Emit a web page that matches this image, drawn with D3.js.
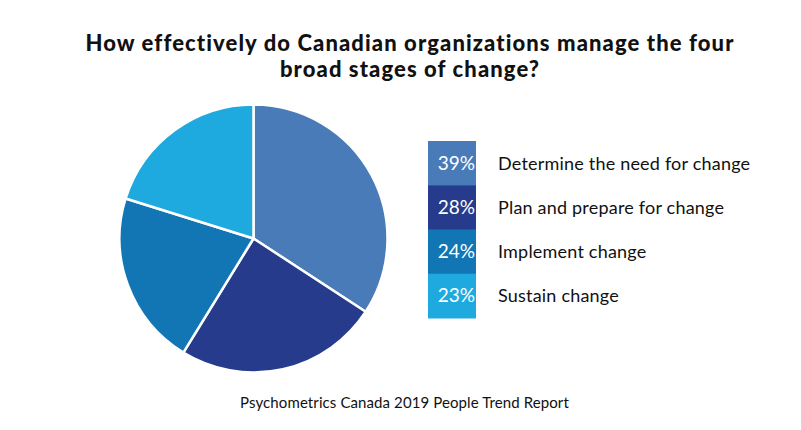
<!DOCTYPE html>
<html lang="en">
<head>
<meta charset="utf-8">
<title>Stages of change</title>
<script src="https://d3js.org/d3.v7.min.js"></script>
<style>
  body { margin: 0; background: #fff; }
  text { font-family: Lato, "Open Sans", sans-serif; }
</style>
</head>
<body>
<svg class="chart"></svg>
<script>
// data
var stages = ["Determine the need for change", "Plan and prepare for change", "Implement change", "Sustain change"];
var percents = [39, 28, 24, 23];
var colours = ["#497bb8", "#263b8b", "#1276b5", "#1eaadf"];
var titleLines = ["How effectively do Canadian organizations manage the four", "broad stages of change?"];
var source = "Psychometrics Canada 2019 People Trend Report";

var width = 801, height = 430;

var svg = d3.select(".chart")
    .attr("width", width)
    .attr("height", height);

// title
svg.append("text")
    .attr("x", 410)
    .attr("y", 51)
    .attr("text-anchor", "middle")
    .style("font-size", "22px")
    .style("font-weight", "900")
    .style("letter-spacing", "1.1px")
    .style("fill", "#111")
    .selectAll("tspan")
    .data(titleLines)
    .enter().append("tspan")
    .attr("x", 410)
    .attr("dy", function(d, i) { return i ? 26 : 0; })
    .text(function(d) { return d; });

// pie
var radius = 134;
var pieG = svg.append("g").attr("transform", "translate(253.5,238.5)");

var pie = d3.pie().sort(null).value(function(d) { return d; });
var arc = d3.arc().innerRadius(0).outerRadius(radius);

pieG.selectAll("path")
    .data(pie(percents))
    .enter().append("path")
    .attr("d", arc)
    .style("fill", function(d, i) { return colours[i]; })
    .style("stroke", "#fff")
    .style("stroke-width", 2.5)
    .style("stroke-linejoin", "round");

// legend
var y = d3.scaleBand()
    .domain(stages)
    .range([141, 318])
    .padding(0);

var legend = svg.append("g");

var rows = legend.selectAll(".row")
    .data(stages)
    .enter().append("g")
    .attr("class", "row")
    .attr("transform", function(d) { return "translate(0," + y(d) + ")"; });

rows.append("rect")
    .attr("x", 428)
    .attr("width", 48)
    .attr("height", y.bandwidth() + 0.5)
    .style("fill", function(d, i) { return colours[i]; });

rows.append("text")
    .attr("x", 475)
    .attr("y", y.bandwidth() / 2 + 6.5)
    .attr("text-anchor", "end")
    .style("font-size", "19px")
    .style("fill", "#fff")
    .text(function(d, i) { return percents[i] + "%"; });

rows.append("text")
    .attr("x", 498)
    .attr("y", y.bandwidth() / 2 + 6.5)
    .style("font-size", "18px")
    .style("letter-spacing", "0.2px")
    .style("fill", "#111")
    .text(function(d) { return d; });

// source
svg.append("text")
    .attr("x", 404.5)
    .attr("y", 408)
    .attr("text-anchor", "middle")
    .style("font-size", "15px")
    .style("letter-spacing", "0.1px")
    .style("fill", "#111")
    .text(source);
</script>
</body>
</html>
